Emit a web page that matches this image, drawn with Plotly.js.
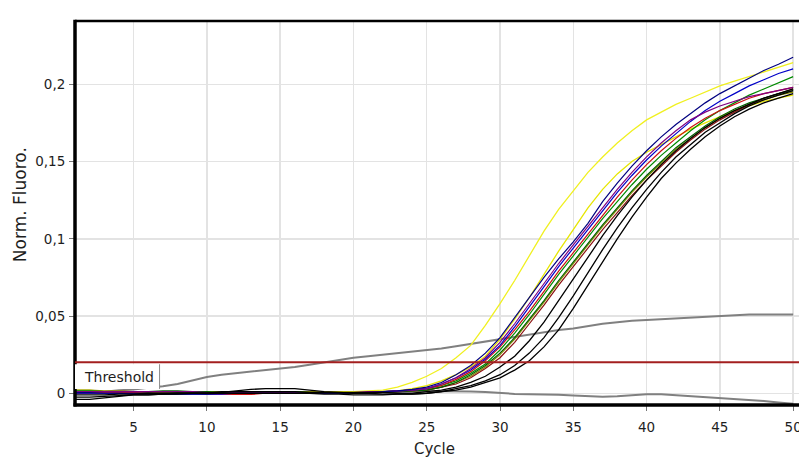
<!DOCTYPE html>
<html>
<head>
<meta charset="utf-8">
<script src="https://cdn.plot.ly/plotly-3.0.1.min.js"></script>
<style>
  html, body { margin: 0; padding: 0; background: #ffffff; }
  #chart { width: 799px; height: 457px; }
</style>
</head>
<body>
<div id="chart"></div>
<script>
// Amplification run: normalised fluorescence per cycle
const cycles = [1,2,3,4,5,6,7,8,9,10,11,12,13,14,15,16,17,18,19,20,21,22,23,24,25,
                26,27,28,29,30,31,32,33,34,35,36,37,38,39,40,41,42,43,44,45,46,47,48,49,50];

const xTickVals = [5,10,15,20,25,30,35,40,45,50];
const xTickText = ['5','10','15','20','25','30','35','40','45','50'];
const yTickVals = [0,0.05,0.1,0.15,0.2];
const yTickText = ['0','0,05','0,1','0,15','0,2'];

const thresholdValue = 0.02;
const thresholdLabel = 'Threshold';

const sampleYellowA = [0.002,0.002,0.001,0.001,0.001,0.001,0.001,0.001,0.001,0.001,0.0005,0.0005,0.0005,0.0005,0.0005,0.001,0.001,0.001,0.001,0.001,0.0015,0.002,0.004,0.007,
  0.011,0.016,0.023,0.031,0.044,0.058,0.073,0.089,0.105,0.119,0.131,0.143,0.153,0.162,0.170,0.177,0.182,0.187,0.191,0.195,0.199,0.202,0.205,0.208,0.211,0.214];
const sampleYellowB = [0.001,0.001,0.001,0.001,0.001,0.001,0.001,0.001,0.001,0.001,0.001,0.001,0.001,0.001,0.001,0.001,0.001,0.001,0.001,0.0005,0.0005,0.001,0.0015,0.003,
  0.005,0.008,0.012,0.017,0.024,0.035,0.048,0.062,0.077,0.092,0.106,0.120,0.132,0.142,0.150,0.156,0.161,0.166,0.171,0.175,0.179,0.183,0.186,0.189,0.191,0.193];
const sampleNavy = [0.0005,0.0005,0,0,0,0,-0.0005,-0.0005,-0.0005,-0.0005,0,0,0,0,0,0,0,0,0,0,0.0005,0.001,0.0015,0.0025,
  0.004,0.007,0.012,0.018,0.026,0.036,0.049,0.062,0.075,0.087,0.098,0.110,0.124,0.136,0.147,0.157,0.166,0.174,0.181,0.188,0.194,0.199,0.204,0.209,0.213,0.2175];
const samplePurple = [0.001,0.001,0.001,0.001,0.001,0.001,0.001,0.001,0.001,0.0005,0.0005,0.0005,0.0005,0.0005,0.0005,0.0005,0.0005,0.0005,0.0005,0.0005,0.001,0.001,0.0015,0.002,
  0.003,0.006,0.010,0.016,0.023,0.033,0.045,0.058,0.071,0.084,0.096,0.108,0.120,0.132,0.143,0.153,0.162,0.170,0.177,0.182,0.186,0.189,0.192,0.194,0.196,0.198];
const sampleBlue = [0,0,0,0,-0.0005,-0.0005,-0.0005,-0.0005,-0.0005,-0.0005,-0.0005,0,0,0,0,0,0,0,0,0,0.0005,0.001,0.0015,0.002,
  0.003,0.006,0.010,0.015,0.022,0.031,0.043,0.056,0.069,0.082,0.094,0.106,0.118,0.130,0.141,0.151,0.160,0.168,0.176,0.183,0.189,0.194,0.199,0.203,0.207,0.210];
const sampleRed = [0.0005,0.0005,0.0005,0.0005,0.0005,0,0,0,0,-0.0005,-0.0008,-0.0008,-0.0008,0,0,0,0,0,0,0,0.0005,0.001,0.0015,0.002,
  0.003,0.005,0.009,0.014,0.021,0.030,0.041,0.053,0.066,0.079,0.091,0.103,0.115,0.127,0.138,0.148,0.157,0.165,0.172,0.178,0.183,0.187,0.191,0.194,0.196,0.198];
const sampleGreen = [0.0015,0.0015,0.001,0.001,0.001,0.001,0.001,0.0005,0.0005,0.0005,0.0005,0.0005,0.0005,0.001,0.001,0.001,0.0005,0.0005,0.0005,0.0005,0.0005,0.001,0.0015,0.002,
  0.003,0.005,0.008,0.013,0.019,0.028,0.039,0.051,0.064,0.077,0.089,0.101,0.113,0.124,0.135,0.145,0.154,0.162,0.170,0.177,0.183,0.188,0.193,0.197,0.201,0.205];
const sampleDarkGreen = [0.001,0.001,0.001,0.001,0.001,0.001,0.0015,0.0015,0.001,0.001,0.0005,0.0005,0.0005,0.0005,0.0005,0.0005,0.0005,0.0005,0.0005,0.0005,0.0005,0.0005,0.001,0.0015,
  0.002,0.004,0.007,0.012,0.018,0.026,0.036,0.048,0.060,0.073,0.085,0.097,0.109,0.120,0.131,0.141,0.150,0.159,0.166,0.173,0.179,0.184,0.188,0.191,0.194,0.196];
const sampleMaroon = [0,0,0,0,0,0,0,0,0,0,0,0,0,0,0,0,0,0,0,0,0,0.0005,0.001,0.0015,
  0.002,0.004,0.006,0.010,0.016,0.023,0.033,0.045,0.057,0.070,0.082,0.094,0.106,0.117,0.128,0.138,0.147,0.156,0.164,0.171,0.177,0.182,0.187,0.191,0.194,0.197];
const sampleOlive = [0.002,0.002,0.0015,0.0015,0.001,0.001,0.001,0.001,0.001,0.001,0.001,0.001,0.001,0.001,0.001,0.001,0.001,0.0005,0.0005,0.0005,0.0005,0.0005,0.001,0.0015,
  0.002,0.004,0.007,0.011,0.017,0.025,0.035,0.047,0.059,0.072,0.084,0.096,0.108,0.119,0.130,0.140,0.149,0.158,0.165,0.172,0.178,0.183,0.187,0.190,0.193,0.195];
const sampleBlackA = [-0.004,-0.004,-0.003,-0.002,-0.001,-0.001,-0.0005,-0.0005,0,0,0.0005,0.0015,0.0025,0.003,0.003,0.003,0.002,0.001,0.0005,0.0005,0.0005,0.0005,0,0,
  0.001,0.002,0.004,0.007,0.011,0.017,0.024,0.034,0.046,0.060,0.074,0.088,0.102,0.115,0.127,0.138,0.148,0.157,0.165,0.172,0.178,0.183,0.187,0.191,0.194,0.197];
const sampleBlackB = [-0.001,-0.001,-0.001,-0.0005,-0.0005,0,0,0,0,0,0.001,0.001,0.001,0.001,0.001,0.001,0.0005,0.0005,0.0005,0,0,-0.0005,-0.0005,-0.0005,
  0,0.001,0.003,0.005,0.008,0.012,0.018,0.026,0.036,0.049,0.063,0.078,0.093,0.107,0.120,0.132,0.143,0.153,0.161,0.169,0.175,0.181,0.186,0.190,0.193,0.196];
const sampleBlackC = [-0.0025,-0.0025,-0.002,-0.0015,-0.001,-0.001,-0.0005,0,0,0,0,0,0,0,0,0,0,-0.0005,-0.0005,-0.001,-0.001,-0.001,-0.0005,-0.0005,
  0,0.001,0.002,0.004,0.007,0.010,0.015,0.021,0.030,0.041,0.055,0.070,0.085,0.100,0.114,0.127,0.139,0.149,0.158,0.166,0.173,0.179,0.184,0.188,0.191,0.194];
const sampleGrayRising = [0,0.0005,0.001,0.002,0.0025,0.0035,0.0045,0.006,0.0085,0.0105,0.012,0.013,0.014,0.015,0.016,0.017,0.0185,0.020,0.0215,0.023,0.024,0.025,0.026,0.027,
  0.028,0.029,0.0305,0.032,0.0335,0.035,0.0365,0.038,0.0395,0.041,0.042,0.0435,0.045,0.046,0.047,0.0475,0.048,0.0485,0.049,0.0495,0.050,0.0505,0.051,0.051,0.051,0.051];
const sampleGrayFalling = [0.0005,0.0005,0.0005,0.0005,0.0005,0.0005,0.0005,0.0005,0.0005,0.0005,0.0005,0.0005,0.0005,0.0005,0.0005,0.0005,0.0005,0.0005,0.0005,0.0005,0.0005,0.001,0.001,0.0015,
  0.0015,0.0015,0.0015,0.0012,0.0008,0,-0.0004,-0.0006,-0.0007,-0.001,-0.0015,-0.002,-0.0022,-0.002,-0.0012,-0.0006,-0.0006,-0.0012,-0.002,-0.0025,-0.0032,-0.0038,-0.0042,-0.005,-0.006,-0.0068];

// drawing order and colour of each well
const wells = [
  {values: sampleGrayRising,  color: '#808080', width: 2},
  {values: sampleGrayFalling, color: '#808080', width: 2},
  {values: sampleYellowA,     color: '#f0f020', width: 1.3},
  {values: sampleYellowB,     color: '#e6e600', width: 1.3},
  {values: sampleOlive,       color: '#8a8a00', width: 1.2},
  {values: sampleMaroon,      color: '#8b1010', width: 1.2},
  {values: sampleDarkGreen,   color: '#006000', width: 1.2},
  {values: sampleGreen,       color: '#008a00', width: 1.2},
  {values: sampleRed,         color: '#cc1010', width: 1.2},
  {values: sampleBlue,        color: '#0000c8', width: 1.2},
  {values: samplePurple,      color: '#800080', width: 1.2},
  {values: sampleNavy,        color: '#000080', width: 1.2},
  {values: sampleBlackA,      color: '#000000', width: 1.3},
  {values: sampleBlackB,      color: '#000000', width: 1.3},
  {values: sampleBlackC,      color: '#000000', width: 1.3}
];

const traces = wells.map(w => ({
  type: 'scatter',
  mode: 'lines',
  x: cycles,
  y: w.values,
  line: {color: w.color, width: w.width},
  hoverinfo: 'skip',
  showlegend: false
}));

const tickFont = {family: 'DejaVu Sans, Arial, sans-serif', size: 13.5, color: '#1e1e1e'};
const labelBoxRight = 6.77;

const layout = {
  width: 799,
  height: 457,
  margin: {l: 75, r: 0, t: 21, b: 52, pad: 0},
  paper_bgcolor: '#ffffff',
  plot_bgcolor: '#ffffff',
  showlegend: false,
  xaxis: {
    range: [1, 50.4],
    tickvals: xTickVals,
    ticktext: xTickText,
    ticks: 'outside',
    ticklen: 5,
    tickwidth: 1,
    tickcolor: '#777777',
    tickfont: tickFont,
    ticklabelstandoff: 5,
    ticklabeloverflow: 'allow',
    showgrid: true,
    gridcolor: '#e3e3e3',
    gridwidth: 1.5,
    zeroline: false,
    showline: false
  },
  yaxis: {
    range: [-0.0076, 0.241],
    tickvals: yTickVals,
    ticktext: yTickText,
    ticks: 'outside',
    ticklen: 5,
    tickwidth: 1,
    tickcolor: '#777777',
    tickfont: tickFont,
    ticklabelstandoff: 1,
    showgrid: true,
    gridcolor: '#e3e3e3',
    gridwidth: 1.5,
    zeroline: false,
    showline: false
  },
  shapes: [
    // frame: heavy left and bottom edges, lighter top edge
    {type: 'line', xref: 'paper', yref: 'paper', x0: 0, x1: 1, y0: 1, y1: 1,
     line: {color: '#000000', width: 2.5}, layer: 'above'},
    {type: 'line', xref: 'paper', yref: 'paper', x0: 0, x1: 0, y0: -0.004, y1: 1.003,
     line: {color: '#000000', width: 3.5}, layer: 'above'},
    {type: 'line', xref: 'paper', yref: 'paper', x0: -0.002, x1: 1, y0: 0, y1: 0,
     line: {color: '#000000', width: 3.5}, layer: 'above'},
    // label box behind the threshold caption
    {type: 'rect', xref: 'x', yref: 'y', x0: 1, x1: labelBoxRight, y0: 0.0028, y1: 0.0188,
     fillcolor: '#ffffff', line: {width: 0}, layer: 'above'},
    {type: 'line', xref: 'x', yref: 'y', x0: labelBoxRight, x1: labelBoxRight, y0: 0.0028, y1: 0.0188,
     line: {color: '#8c8c8c', width: 1}, layer: 'above'},
    // threshold
    {type: 'line', xref: 'paper', yref: 'y', x0: 0, x1: 1, y0: thresholdValue, y1: thresholdValue,
     line: {color: '#a31f1f', width: 2}, layer: 'above'}
  ],
  annotations: [
    {text: thresholdLabel, xref: 'x', yref: 'y', x: 1, y: 0.0106, xanchor: 'left', yanchor: 'middle',
     xshift: 7, showarrow: false, font: {family: 'DejaVu Sans, Arial, sans-serif', size: 14, color: '#1e1e1e'}},
    {text: 'Norm. Fluoro.', xref: 'paper', yref: 'paper', x: -0.076, y: 0.523, textangle: -90,
     xanchor: 'center', yanchor: 'middle', showarrow: false,
     font: {family: 'DejaVu Sans, Arial, sans-serif', size: 17, color: '#1e1e1e'}},
    {text: 'Cycle', xref: 'paper', yref: 'paper', x: 0.497, y: -0.115,
     xanchor: 'center', yanchor: 'middle', showarrow: false,
     font: {family: 'DejaVu Sans, Arial, sans-serif', size: 15, color: '#1e1e1e'}}
  ]
};

Plotly.newPlot('chart', traces, layout, {staticPlot: true, displayModeBar: false});
</script>
</body>
</html>
